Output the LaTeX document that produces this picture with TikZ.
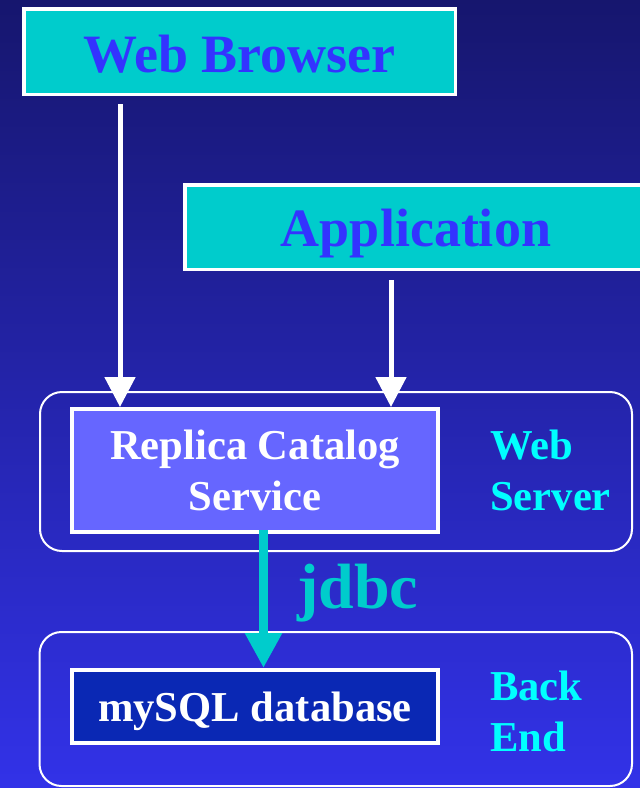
\documentclass[tikz,border=0pt]{standalone}
\usepackage{fontspec}
\setmainfont{Liberation Serif}
\usetikzlibrary{arrows.meta}

\definecolor{bgtop}{RGB}{22,22,110}
\definecolor{bgbot}{RGB}{50,50,232}
\definecolor{boxcyan}{RGB}{0,204,204}
\definecolor{titleblue}{RGB}{51,51,255}
\definecolor{servicefill}{RGB}{102,102,255}
\definecolor{dbfill}{RGB}{10,40,180}
\definecolor{tiercyan}{RGB}{0,255,255}

\tikzset{
  clientbox/.style={draw=white, line width=3.5pt, fill=boxcyan, inner sep=0pt,
    text=titleblue, text depth=0pt, font=\bfseries\fontsize{54}{60}\selectfont},
  tierbox/.style={draw=white, line width=4pt, inner sep=0pt, text=white,
    align=center, font=\bfseries\fontsize{42.6}{51}\selectfont},
  tierframe/.style={draw=white, line width=2pt, rounded corners=22pt},
  tierlabel/.style={text=tiercyan, align=left, inner sep=0pt,
    font=\bfseries\fontsize{42.6}{51}\selectfont},
  callarrow/.style={draw=white, line width=5pt,
    -{Triangle[width=30pt,length=30pt]}},
  jdbcarrow/.style={draw=boxcyan, line width=9pt,
    -{Triangle[width=35pt,length=35pt]}},
}

\begin{document}
\begin{tikzpicture}[x=1pt,y=-1pt]
  \useasboundingbox (0,0) rectangle (640,788);
  \shade[top color=bgtop, bottom color=bgbot] (0,0) rectangle (640,788);

  % client side
  \node[clientbox, text height=41pt, minimum width=431.5pt, minimum height=85.5pt]
    (wb) at (239.5,51.5) {Web Browser};
  \node[clientbox, text height=38pt, minimum width=462pt, minimum height=84.5pt]
    (app) at (416,227) {Application};

  % tier frames
  \draw[tierframe] (40,392) rectangle (632,551);
  \draw[tierframe] (39.5,632) rectangle (632,786);

  % service and database
  \node[tierbox, fill=servicefill, minimum width=366pt, minimum height=123pt]
    (rcs) at (255,470.5) {Replica Catalog\\Service};
  \node[tierbox, fill=dbfill, text height=30.4pt, text depth=0pt,
    minimum width=366pt, minimum height=73pt]
    (db) at (255,706.5) {mySQL database};

  % tier names
  \node[tierlabel, anchor=west] (ws) at (490,470) {Web\\Server};
  \node[tierlabel, anchor=west] (be) at (490,711) {Back\\End};

  % connectors
  \coordinate (wbout) at (120,104);
  \coordinate (appout) at (391,280);
  \coordinate (rcsout) at (263.5,530);
  \draw[callarrow] (wbout) -- (wbout |- rcs.north);
  \draw[callarrow] (appout) -- (appout |- rcs.north);
  \draw[jdbcarrow] (rcsout) -- (rcsout |- db.north);

  \node[anchor=base west, inner sep=0pt, text=boxcyan,
    font=\bfseries\fontsize{64}{70}\selectfont] (jdbc) at (297,608) {jdbc};
\end{tikzpicture}
\end{document}
